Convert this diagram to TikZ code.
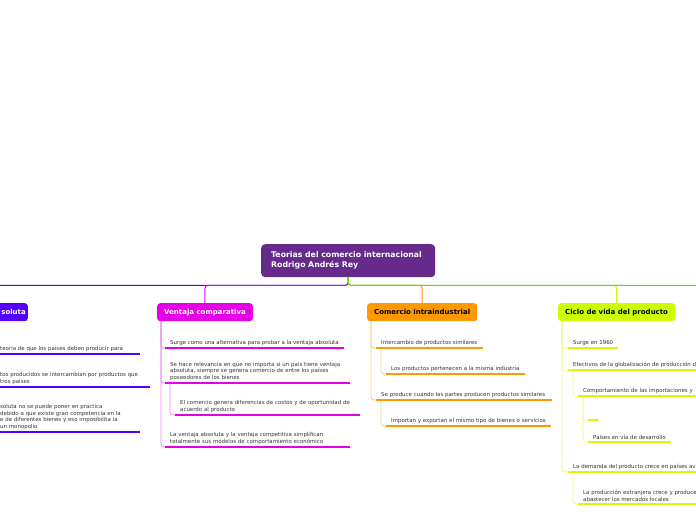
\documentclass[tikz,border=0pt]{standalone}
\usepackage{fontspec}
\setsansfont{DejaVu Sans}
\definecolor{rootcolor}{RGB}{102,42,138}
\definecolor{abscolor}{RGB}{85,0,255}
\definecolor{compcolor}{RGB}{230,0,230}
\definecolor{intracolor}{RGB}{255,153,0}
\definecolor{ciclocolor}{RGB}{204,255,0}
\definecolor{linkcolor}{RGB}{85,221,34}

\tikzset{
  topic/.style={anchor=north west, rounded corners=3pt, minimum height=18pt, inner xsep=7pt, font=\sffamily\bfseries\fontsize{7}{8}\selectfont},
  leaf/.style={anchor=south west, inner xsep=5pt, inner ysep=2pt, align=left, text=black!80, font=\sffamily\fontsize{5.45}{6.8}\selectfont},
  uline/.style={draw=#1, line width=2.8pt},
  twig/.style={draw=#1!50, line width=0.8pt, rounded corners=3pt},
  branch/.style={draw=#1, line width=1pt, rounded corners=3pt},
}

\begin{document}
\begin{tikzpicture}[x=1pt, y=-1pt]
    \clip (0,0) rectangle (696,520);
    \fill[white] (0,0) rectangle (696,520);

    % root and main topics
    \node[fill=rootcolor, text=white, rounded corners=4pt, anchor=north west, minimum width=174pt, minimum height=33pt, text width=154pt, inner xsep=10pt, align=left, font=\sffamily\bfseries\fontsize{7.8}{9.8}\selectfont] (root) at (261,244) {Teorias del comercio internacional\\Rodrigo Andrés Rey};

    \node[topic, fill=abscolor, text=white, anchor=north east, text width=80pt, inner xsep=2pt, align=right] (va) at (28,303) {soluta};
    \node[topic, fill=compcolor, text=white] (vc) at (157,303) {Ventaja comparativa};
    \node[topic, fill=intracolor] (ci) at (367,303) {Comercio intraindustrial};
    \node[topic, fill=ciclocolor] (cv) at (558,303) {Ciclo de vida del producto};
    \coordinate (nx) at (760,303);

    \draw[branch=abscolor] (root.south) -- ++(0,8) -| (va.north);
    \draw[branch=compcolor] (root.south) -- ++(0,8) -| (vc.north);
    \draw[branch=intracolor] (root.south) -- ++(0,8) -| (ci.north);
    \draw[branch=ciclocolor] (root.south) -- ++(0,8) -| (cv.north);
    \draw[branch=linkcolor] (root.south) -- ++(0,8) -| (nx);

    % Ventaja absoluta
    \node[leaf, text width=135pt] (va1) at (-5,354) {teoria de que los paises deben producir para};
    \node[leaf, text width=145pt] (va2) at (-5,387) {tos producidos se intercambian por productos que\\tros paises};
    \node[leaf, text width=135pt] (va3) at (-5,432) {soluta no se puede poner en practica\\debido a que existe gran competencia en la\\e de diferentes bienes y eso imposibilita la\\un monopolio};

    \foreach \n in {va1,va2,va3}
        \draw[twig=abscolor] ([xshift=4pt]va.south west) |- (\n.south west);
    \foreach \n in {va1,va2,va3}
        \draw[uline=abscolor] (\n.south west) -- (\n.south east);

    % Ventaja comparativa
    \node[leaf] (vc1) at (165,348) {Surge como una alternativa para probar a la ventaja absoluta};
    \node[leaf, text width=175pt] (vc2) at (165,383) {Se hace relevancia en que no importa si un país tiene ventaja\\absoluta, siempre se genera comercio de entre los países\\poseedores de los bienes};
    \node[leaf, text width=175pt] (vc3) at (175,415) {El comercio genera diferencias de costos y de oportunidad de\\acuerdo al producto};
    \node[leaf, text width=175pt] (vc4) at (165,447) {La ventaja absoluta y la ventaja competitiva simplifican\\totalmente sus modelos de comportamiento económico};

    \foreach \n in {vc1,vc2,vc4}
        \draw[twig=compcolor] ([xshift=4pt]vc.south west) |- (\n.south west);
    \draw[twig=compcolor] ([xshift=5pt]vc2.south west) |- (vc3.south west);
    \foreach \n in {vc1,vc2,vc3,vc4}
        \draw[uline=compcolor] (\n.south west) -- (\n.south east);

    % Comercio intraindustrial
    \node[leaf] (ci1) at (376,348) {Intercambio de productos similares};
    \node[leaf] (ci2) at (386,374) {Los productos pertenecen a la misma industria};
    \node[leaf, text width=166pt] (ci3) at (376,400) {Se produce cuando las partes producen productos similares};
    \node[leaf, text width=155pt] (ci4) at (386,426) {Importan y exportan el mismo tipo de bienes o servicios};

    \foreach \n in {ci1,ci3}
        \draw[twig=intracolor] ([xshift=4pt]ci.south west) |- (\n.south west);
    \draw[twig=intracolor] ([xshift=5pt]ci1.south west) |- (ci2.south west);
    \draw[twig=intracolor] ([xshift=5pt]ci3.south west) |- (ci4.south west);
    \foreach \n in {ci1,ci2,ci3,ci4}
        \draw[uline=intracolor] (\n.south west) -- (\n.south east);

    % Ciclo de vida del producto
    \node[leaf] (cv1) at (568,348) {Surge en 1960};
    \node[leaf] (cv2) at (568,370) {Efectivos de la globalización de producción d};
    \node[leaf] (cv3) at (578,396) {Comportamiento de las importaciones y};
    \node[leaf, minimum width=10pt] (cv4) at (588,420) {};
    \node[leaf] (cv5) at (588,442) {Países en vía de desarrollo};
    \node[leaf] (cv6) at (568,472) {La demanda del producto crece en países av};
    \node[leaf] (cv7) at (578,504) {La producción extranjera crece y produce\\abastecer los mercados locales};

    \foreach \n in {cv1,cv2,cv6}
        \draw[twig=ciclocolor] ([xshift=4pt]cv.south west) |- (\n.south west);
    \draw[twig=ciclocolor] ([xshift=5pt]cv2.south west) |- (cv3.south west);
    \foreach \n in {cv4,cv5}
        \draw[twig=ciclocolor] ([xshift=5pt]cv3.south west) |- (\n.south west);
    \draw[twig=ciclocolor] ([xshift=5pt]cv6.south west) |- (cv7.south west);
    \foreach \n in {cv1,cv2,cv3,cv4,cv5,cv6,cv7}
        \draw[uline=ciclocolor] (\n.south west) -- (\n.south east);

\end{tikzpicture}
\end{document}
